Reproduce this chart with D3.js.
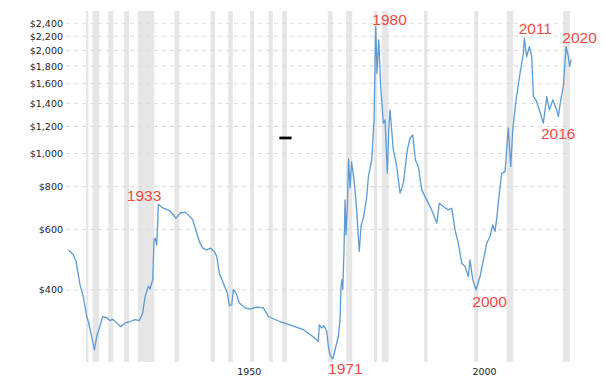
<!DOCTYPE html>
<html>
<head>
<meta charset="utf-8">
<script src="https://cdn.jsdelivr.net/npm/d3@7"></script>
<style>
    body { margin: 0; background: #fff; }
    .tick text { font-family: "DejaVu Sans", Verdana, sans-serif; font-size: 9.5px; fill: #222; }
    .note { font-family: "Liberation Sans", Arial, sans-serif; font-size: 15.5px; fill: #ef4b45; }
</style>
</head>
<body>
<script>
//gold price, inflation adjusted, log scale

//line data (decimal year, price in $)
var years = [1914.85, 1915.91, 1916.48, 1917.33, 1918.03, 1918.76, 1919.10, 1919.82, 1920.37, 1920.88,
    1921.44, 1922.16, 1923.01, 1923.71, 1924.28, 1925.13, 1925.98, 1926.90, 1927.96, 1929.02,
    1929.94, 1930.66, 1931.15, 1931.85, 1932.21, 1932.78, 1933.06, 1933.27, 1933.64, 1933.98,
    1935.04, 1936.46, 1937.74, 1938.59, 1939.65, 1940.71, 1941.29, 1942.14, 1942.84, 1943.41,
    1944.26, 1945.11, 1945.88, 1946.39, 1946.94, 1947.79, 1948.64, 1949.07, 1949.58, 1949.92,
    1950.49, 1951.19, 1952.40, 1953.47, 1954.89, 1956.29, 1957.35, 1958.42, 1959.84, 1961.97,
    1964.79, 1966.92, 1967.98, 1968.19, 1968.70, 1969.19, 1969.77, 1970.11, 1970.47, 1971.04,
    1971.53, 1972.23, 1972.59, 1972.81, 1973.02, 1973.17, 1973.44, 1973.66, 1973.87, 1974.15,
    1974.40, 1974.72, 1975.04, 1975.57, 1976.10, 1976.67, 1977.06, 1977.55, 1978.27, 1978.61,
    1979.33, 1979.82, 1980.18, 1980.46, 1980.82, 1981.24, 1981.80, 1982.16, 1982.65, 1982.94,
    1983.22, 1983.92, 1984.65, 1985.35, 1986.05, 1986.90, 1987.47, 1988.05, 1988.60, 1989.24,
    1989.96, 1990.66, 1991.36, 1992.08, 1993.15, 1993.70, 1994.55, 1995.61, 1996.33, 1997.04,
    1997.74, 1998.46, 1999.16, 1999.86, 2000.22, 2000.80, 2001.50, 2002.35, 2003.20, 2003.77,
    2004.47, 2005.05, 2005.54, 2005.90, 2006.45, 2006.96, 2007.66, 2008.36, 2008.87, 2009.30,
    2010.00, 2010.85, 2011.55, 2011.76, 2012.27, 2012.83, 2013.34, 2013.68, 2014.25, 2014.95,
    2015.80, 2016.53, 2017.08, 2017.80, 2018.65, 2018.99, 2019.50, 2020.06, 2020.63, 2021.12,
    2021.40, 2021.69];
var prices = [523, 506, 484, 414, 382, 334, 323, 292, 267, 292,
    309, 334, 331, 325, 328, 320, 312, 320, 323, 327,
    325, 342, 382, 409, 402, 428, 559, 566, 541, 710,
    692, 680, 647, 669, 674, 654, 640, 585, 547, 529,
    523, 529, 517, 500, 447, 418, 391, 359, 362, 400,
    391, 366, 354, 351, 356, 354, 334, 329, 323, 316,
    306, 291, 283, 316, 309, 314, 302, 273, 258, 251,
    267, 292, 327, 409, 428, 400, 523, 732, 579, 700,
    964, 794, 945, 837, 694, 517, 615, 648, 747, 854,
    958, 1253, 2346, 1715, 2145, 1567, 1226, 1253, 876, 1172,
    1340, 1024, 916, 766, 819, 1024, 1108, 1133, 958, 916,
    783, 748, 716, 684, 626, 716, 700, 684, 692, 598,
    547, 478, 468, 437, 489, 428, 400, 437, 500, 547,
    572, 619, 592, 647, 766, 876, 885, 1188, 916, 1172,
    1433, 1715, 1962, 2170, 1918, 2051, 1918, 1466, 1433, 1340,
    1226, 1466, 1340, 1433, 1340, 1281, 1433, 1567, 2051, 1918,
    1793, 1880];

//recession periods
var recStart = [1918.6, 1920.0, 1923.35, 1926.7, 1929.6, 1937.4, 1945.1, 1948.85, 1953.5, 1957.4,
    1960.3, 1970.0, 1973.9, 1979.8, 1981.5, 1990.45, 2001.1, 2008.0, 2020.0];
var recEnd = [1919.1, 1921.4, 1924.4, 1927.75, 1933.1, 1938.45, 1946.0, 1949.8, 1954.3, 1958.3,
    1961.3, 1971.0, 1975.2, 1980.5, 1982.9, 1991.2, 2002.0, 2009.4, 2021.45];

//axis ticks
var priceTicks = [400, 600, 800, 1000, 1200, 1400, 1600, 1800, 2000, 2200, 2400];
var yearTicks = [1950, 2000];

//red year labels
var noteText = ["1933", "1971", "1980", "2000", "2011", "2016", "2020"];
var noteYear = [1930.94, 1973.72, 1983.11, 2004.37, 2014.1, 2018.97, 2023.5];
var notePrice = [728, 227, 2373, 357, 2229, 1105, 2098];

var width = 604,
    height = 381;

var svg = d3.select("body")
    .append("svg")
    .attr("width", width)
    .attr("height", height);

var x = d3.scaleLinear()
    .domain([1914.5, 2022])
    .range([66.7, 572.5]);

var y = d3.scaleLog()
    .domain([246, 2607])
    .range([362, 11]);

//recession bars
svg.selectAll(".recession")
    .data(recStart)
    .enter()
    .append("rect")
    .attr("class", "recession")
    .attr("x", function(d){ return x(d); })
    .attr("y", y.range()[1])
    .attr("width", function(d, i){ return x(recEnd[i]) - x(d); })
    .attr("height", y.range()[0] - y.range()[1])
    .attr("fill", "#e6e6e6");

//gridlines
svg.selectAll(".grid")
    .data(priceTicks)
    .enter()
    .append("line")
    .attr("class", "grid")
    .attr("x1", 66)
    .attr("x2", 570)
    .attr("y1", function(d){ return y(d); })
    .attr("y2", function(d){ return y(d); })
    .attr("stroke", "#dcdcdc")
    .attr("stroke-dasharray", "4,4");

//y axis labels
var yAxis = d3.axisLeft(y)
    .tickValues(priceTicks)
    .tickSize(0)
    .tickPadding(0)
    .tickFormat(function(d){ return "$" + d3.format(",")(d); });

svg.append("g")
    .attr("transform", "translate(63,0)")
    .call(yAxis)
    .call(function(g){ g.select(".domain").remove(); });

//x axis labels
var xAxis = d3.axisBottom(x)
    .tickValues(yearTicks)
    .tickSize(0)
    .tickFormat(d3.format("d"));

svg.append("g")
    .attr("transform", "translate(0,368)")
    .call(xAxis)
    .call(function(g){
        g.select(".domain").remove();
        g.selectAll("text").attr("text-anchor", "start").attr("dx", 3).attr("dy", "0.4em");
    });

//price line
var line = d3.line()
    .x(function(d){ return x(d); })
    .y(function(d, i){ return y(prices[i]); });

svg.append("path")
    .datum(years)
    .attr("d", line)
    .attr("fill", "none")
    .attr("stroke", "#5b9bd5")
    .attr("stroke-width", 1.3)
    .attr("stroke-linejoin", "round");

//stray black mark
svg.append("line")
    .attr("x1", x(1959.7))
    .attr("x2", x(1962.3))
    .attr("y1", y(1110))
    .attr("y2", y(1110))
    .attr("stroke", "#000")
    .attr("stroke-width", 2.7);

//year annotations
svg.selectAll(".note")
    .data(noteText)
    .enter()
    .append("text")
    .attr("class", "note")
    .attr("x", function(d, i){ return x(noteYear[i]); })
    .attr("y", function(d, i){ return y(notePrice[i]); })
    .attr("text-anchor", "middle")
    .text(function(d){ return d; });
</script>
</body>
</html>
